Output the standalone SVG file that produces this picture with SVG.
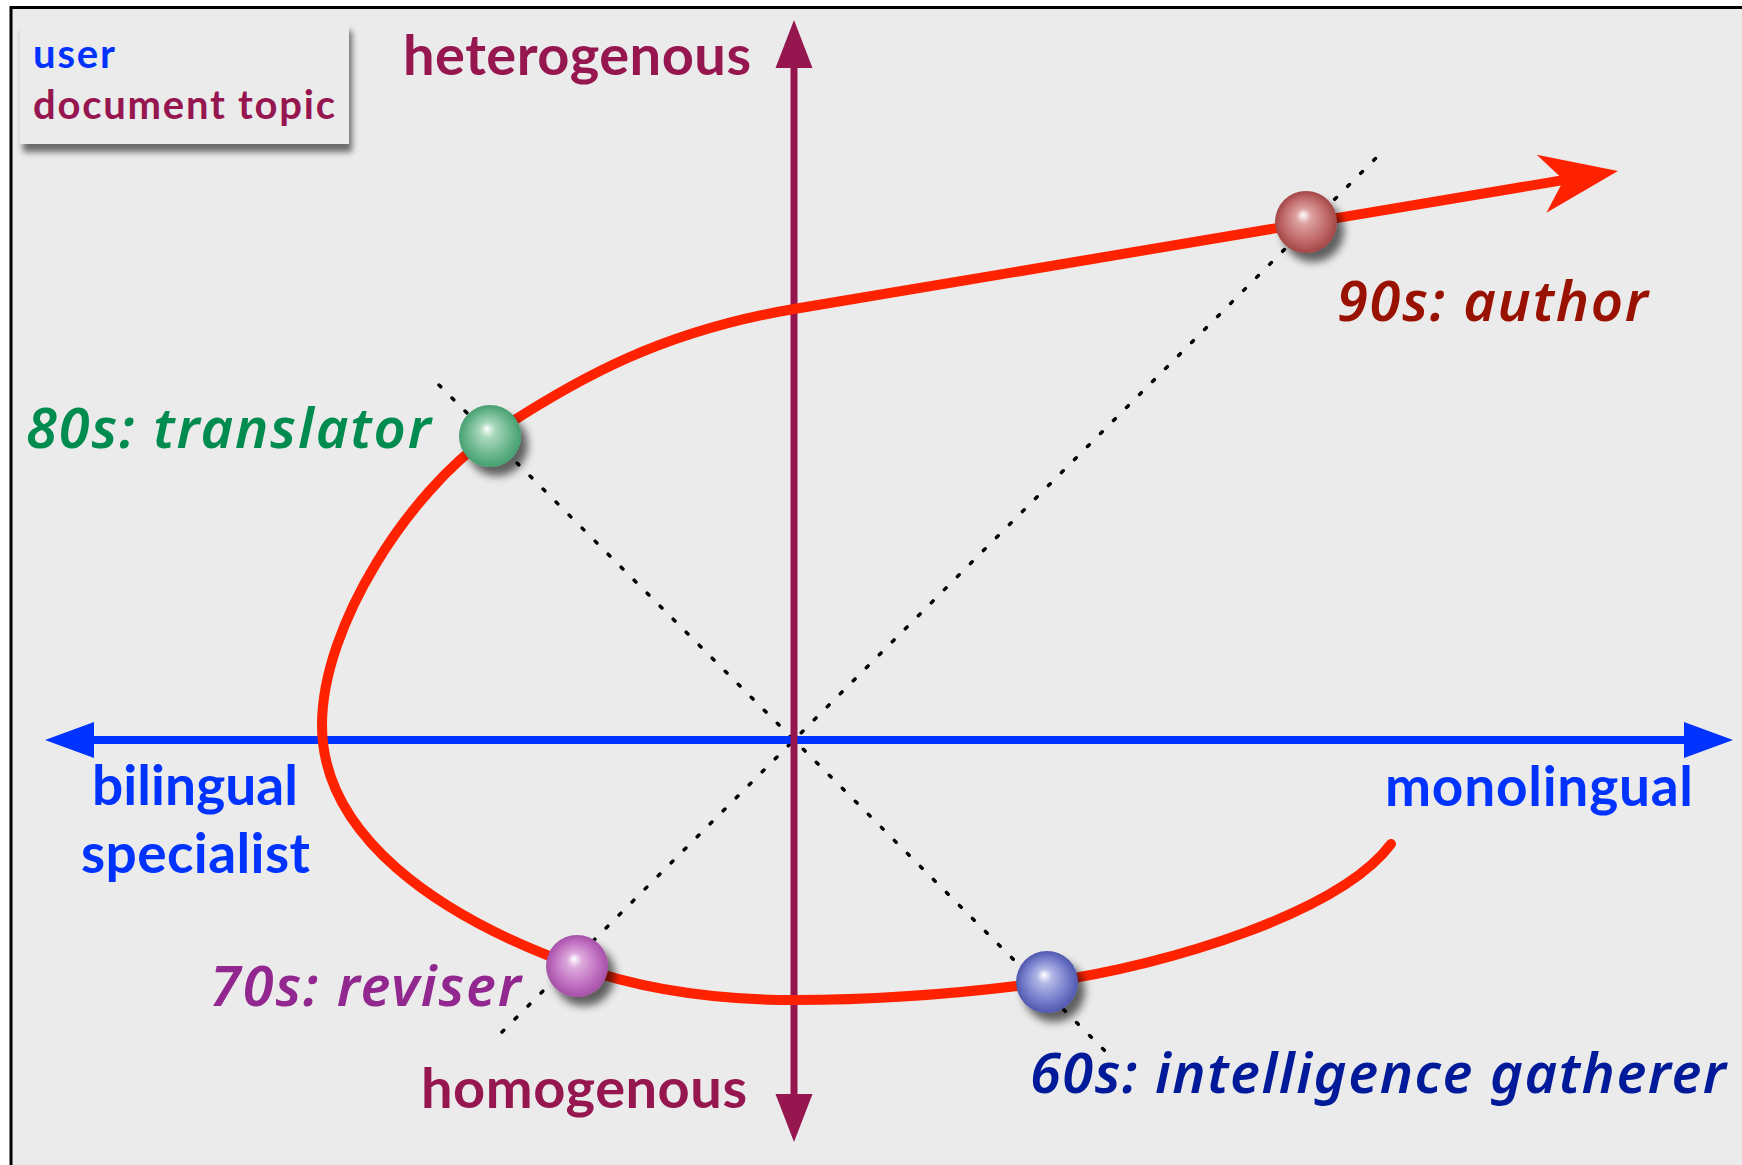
<svg xmlns="http://www.w3.org/2000/svg" width="1742" height="1165" viewBox="0 0 1742 1165">
<style>
.bold{font-family:Lato,"Open Sans","DejaVu Sans",sans-serif;font-weight:700}
.ital{font-family:"Noto Sans","Open Sans","DejaVu Sans",sans-serif;font-style:italic;font-weight:600;font-size:56px}
.blue{fill:#0033FF}
.maroon{fill:#961650}
.dot{stroke:#000;stroke-width:3.5;stroke-linecap:round;stroke-dasharray:2.5 15.9;fill:none}
.ball{filter:url(#shadow)}
</style>
<defs>
<marker id="ah-blue" markerUnits="userSpaceOnUse" viewBox="0 -20 50 40" refX="10" refY="0" markerWidth="50" markerHeight="40" orient="auto-start-reverse">
<path d="M0,-18 L49,0 L0,18 z" fill="#0033FF"/>
</marker>
<marker id="ah-maroon" markerUnits="userSpaceOnUse" viewBox="0 -20 50 40" refX="9" refY="0" markerWidth="50" markerHeight="40" orient="auto-start-reverse">
<path d="M0,-18.5 L48,0 L0,18.5 z" fill="#961650"/>
</marker>
<marker id="ah-red" markerUnits="userSpaceOnUse" viewBox="0 -31 79 62" refX="32.5" refY="0" markerWidth="79" markerHeight="62" orient="auto">
<path d="M0,-29.5 L77.5,0 L0,29.5 L22.5,0 z" fill="#FF2200"/>
</marker>
<filter id="shadow" x="-50%" y="-50%" width="220%" height="220%">
<feGaussianBlur in="SourceAlpha" stdDeviation="4"/>
<feOffset dx="7" dy="9" result="o"/>
<feComponentTransfer><feFuncA type="linear" slope="0.6"/></feComponentTransfer>
<feMerge><feMergeNode/><feMergeNode in="SourceGraphic"/></feMerge>
</filter>
<filter id="boxshadow" x="-10%" y="-20%" width="125%" height="150%">
<feGaussianBlur in="SourceAlpha" stdDeviation="3"/>
<feOffset dx="3" dy="8"/>
<feComponentTransfer><feFuncA type="linear" slope="0.55"/></feComponentTransfer>
<feMerge><feMergeNode/><feMergeNode in="SourceGraphic"/></feMerge>
</filter>
<radialGradient id="g-red" cx="0.5" cy="0.5" r="0.5" fx="0.45" fy="0.38">
<stop offset="0" stop-color="#FFFFFF"/><stop offset="0.25" stop-color="#DDA0A0"/><stop offset="0.7" stop-color="#C06A6A"/><stop offset="1" stop-color="#A44646"/>
</radialGradient>
<radialGradient id="g-green" cx="0.5" cy="0.5" r="0.5" fx="0.45" fy="0.38">
<stop offset="0" stop-color="#FFFFFF"/><stop offset="0.25" stop-color="#A8D8BC"/><stop offset="0.7" stop-color="#6AB68E"/><stop offset="1" stop-color="#46A070"/>
</radialGradient>
<radialGradient id="g-pink" cx="0.5" cy="0.5" r="0.5" fx="0.45" fy="0.38">
<stop offset="0" stop-color="#FFFFFF"/><stop offset="0.25" stop-color="#DCA8DC"/><stop offset="0.7" stop-color="#C070C0"/><stop offset="1" stop-color="#A550A8"/>
</radialGradient>
<radialGradient id="g-blue" cx="0.5" cy="0.5" r="0.5" fx="0.45" fy="0.38">
<stop offset="0" stop-color="#FFFFFF"/><stop offset="0.25" stop-color="#B0B6E6"/><stop offset="0.7" stop-color="#757DCB"/><stop offset="1" stop-color="#5058AE"/>
</radialGradient>
</defs>

<rect x="0" y="0" width="1742" height="1165" fill="#FFFFFF"/>
<rect id="frame" x="11" y="7.5" width="1760" height="1180" fill="#EBEBEB" stroke="#000" stroke-width="3"/>

<g id="legend">
<rect x="20" y="23" width="329" height="121" fill="#EBEBEB" filter="url(#boxshadow)"/>
<text class="bold blue" x="33" y="68" font-size="40" textLength="82">user</text>
<text class="bold maroon" x="33" y="119" font-size="40" textLength="302">document topic</text>
</g>

<g id="connectors">
<line class="dot" x1="439" y1="385" x2="1108" y2="1054"/>
<line class="dot" x1="502" y1="1032" x2="1378" y2="156"/>
<path id="axis-h" d="M84,740 L1694,740" stroke="#0033FF" stroke-width="8" fill="none" marker-start="url(#ah-blue)" marker-end="url(#ah-blue)"/>
<path id="axis-v" d="M794,59 L794,1103" stroke="#961650" stroke-width="7" fill="none" marker-start="url(#ah-maroon)" marker-end="url(#ah-maroon)"/>
<path id="timeline" d="M1391,844 C1340,912 1170,965 1048,982 C960,994 870,1000 794,1000 C720,1000 646,991 576,966 C436,916 322,835 322,725 C322,625 410,491 490,436 C580,376 664,331 794,309 L1573.6,178.4" stroke="#FF2200" stroke-width="10" stroke-linecap="round" fill="none" marker-end="url(#ah-red)"/>
</g>

<g id="label-heterogenous"><text class="bold maroon" x="403" y="75" font-size="56" textLength="348">heterogenous</text></g>
<g id="label-homogenous"><text class="bold maroon" x="421" y="1108" font-size="56" textLength="326">homogenous</text></g>
<g id="label-bilingual">
<text class="bold blue" x="92" y="805" font-size="55" textLength="206">bilingual</text>
<text class="bold blue" x="81" y="873" font-size="55" textLength="229">specialist</text>
</g>
<g id="label-monolingual"><text class="bold blue" x="1385" y="806" font-size="55" textLength="308">monolingual</text></g>

<g id="node-90s">
<circle class="ball" cx="1306" cy="222" r="31" fill="url(#g-red)"/>
<text class="ital" x="1337" y="321" fill="#991100" textLength="311">90s: author</text>
</g>
<g id="node-80s">
<circle class="ball" cx="490" cy="436" r="31" fill="url(#g-green)"/>
<text class="ital" x="26" y="448" fill="#008C4F" textLength="405">80s: translator</text>
</g>
<g id="node-70s">
<circle class="ball" cx="577" cy="966" r="31" fill="url(#g-pink)"/>
<text class="ital" x="210" y="1006" fill="#92278F" textLength="311">70s: reviser</text>
</g>
<g id="node-60s">
<circle class="ball" cx="1047" cy="982" r="31" fill="url(#g-blue)"/>
<text class="ital" x="1030" y="1093" fill="#001A99" textLength="696">60s: intelligence gatherer</text>
</g>
</svg>
